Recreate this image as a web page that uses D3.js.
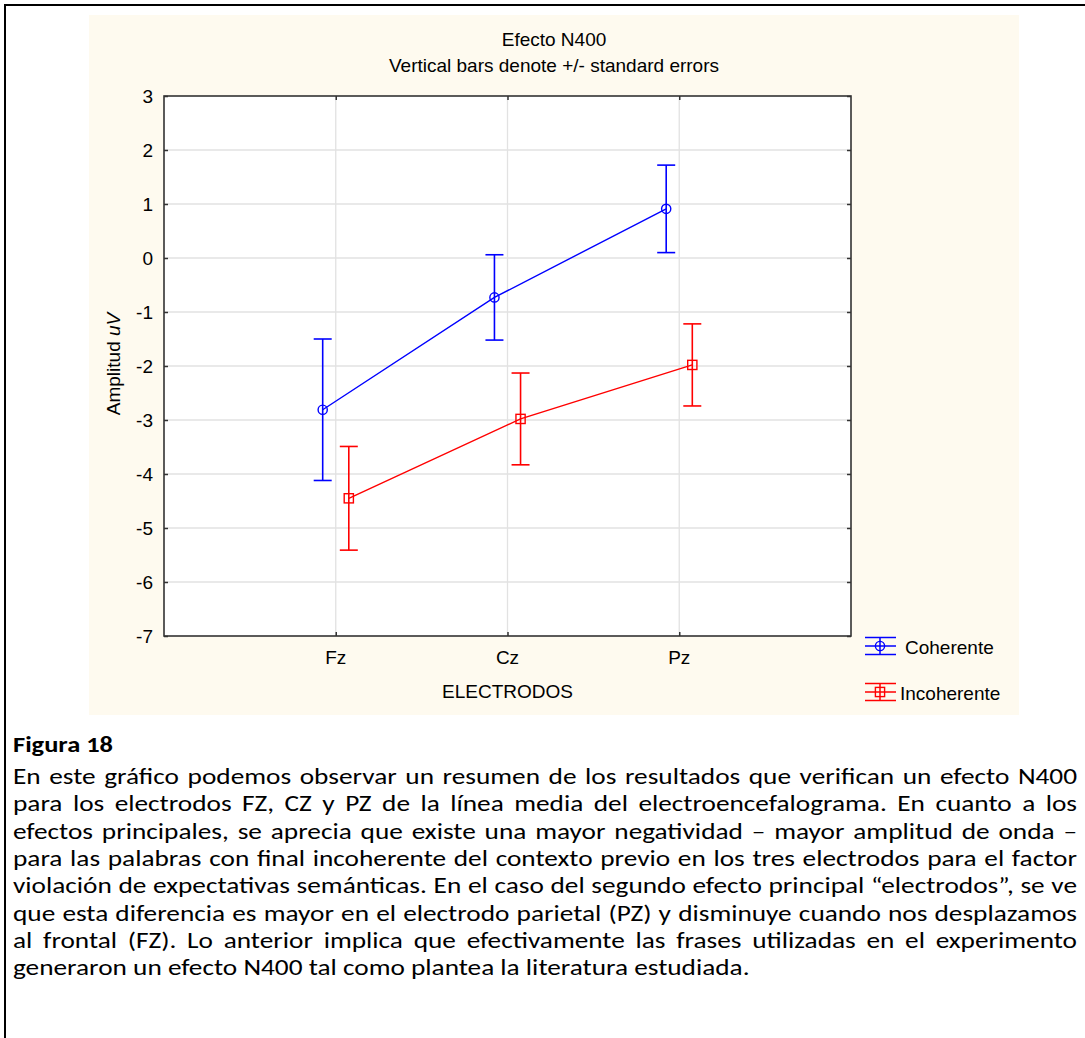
<!DOCTYPE html>
<html>
<head>
<meta charset="utf-8">
<script src="https://cdn.jsdelivr.net/npm/d3@7"></script>
<style>
  html, body { margin: 0; padding: 0; background: #fff; }
  svg { display: block; }
</style>
</head>
<body>
<svg id="chart" width="1085" height="1038"></svg>
<script>
// ---- data ----
const categories = ["Fz", "Cz", "Pz"];
const seriesNames = ["Coherente", "Incoherente"];
const coherenteMean = [-2.81, -0.73, 0.91];
const coherenteSE = [1.31, 0.79, 0.81];
const incoherenteMean = [-4.45, -2.98, -1.98];
const incoherenteSE = [0.96, 0.85, 0.76];
const yTickValues = [3, 2, 1, 0, -1, -2, -3, -4, -5, -6, -7];
const titleText = "Efecto N400";
const subtitleText = "Vertical bars denote +/- standard errors";
const xAxisLabel = "ELECTRODOS";
const yAxisLabel = "Amplitud ";
const yAxisUnit = "uV";
const captionTitle = "Figura 18";
const captionLines = [
  "En este gráfico podemos observar un resumen de los resultados que verifican un efecto N400",
  "para los electrodos FZ, CZ y PZ de la línea media del electroencefalograma. En cuanto a los",
  "efectos principales, se aprecia que existe una mayor negatividad – mayor amplitud de onda –",
  "para las palabras con final incoherente del contexto previo en los tres electrodos para el factor",
  "violación de expectativas semánticas. En el caso del segundo efecto principal “electrodos”, se ve",
  "que esta diferencia es mayor en el electrodo parietal (PZ) y disminuye cuando nos desplazamos",
  "al frontal (FZ). Lo anterior implica que efectivamente las frases utilizadas en el experimento",
  "generaron un efecto N400 tal como plantea la literatura estudiada."
];

// ---- layout ----
const svg = d3.select("#chart");
const font = "'Liberation Sans', Arial, sans-serif";
const fs = 19;
const plot = { left: 164, top: 96, right: 851, bottom: 636 };

const x = d3.scaleLinear().domain([0, categories.length + 1]).range([plot.left, plot.right]);
const y = d3.scaleLinear().domain([-7, 3]).range([plot.bottom, plot.top]);

// outer frame
svg.append("rect").attr("x", 5).attr("y", 5).attr("width", 1100).attr("height", 1100)
  .attr("fill", "#fff").attr("stroke", "#000").attr("stroke-width", 2);

// beige panel
svg.append("rect").attr("x", 89).attr("y", 15).attr("width", 930).attr("height", 700)
  .attr("fill", "#fefaef");

// plot background
svg.append("rect").attr("x", plot.left).attr("y", plot.top)
  .attr("width", plot.right - plot.left).attr("height", plot.bottom - plot.top)
  .attr("fill", "#fff");

// grid lines
const grid = svg.append("g").attr("stroke", "#e2e2e2").attr("stroke-width", 1.3);
grid.selectAll("line.h").data(yTickValues.filter(v => v > -7 && v < 3)).join("line")
  .attr("x1", plot.left).attr("x2", plot.right)
  .attr("y1", d => y(d)).attr("y2", d => y(d));
grid.selectAll("line.v").data(categories).join("line")
  .attr("x1", (d, i) => x(i + 1)).attr("x2", (d, i) => x(i + 1))
  .attr("y1", plot.top).attr("y2", plot.bottom);

// axes (inward ticks on all sides)
const axisColor = "#333";
const yAxisL = d3.axisRight(y).tickValues(yTickValues).tickSize(4).tickFormat("");
const yAxisR = d3.axisLeft(y).tickValues(yTickValues).tickSize(4).tickFormat("");
const xAxisB = d3.axisTop(x).tickValues(categories.map((d, i) => i + 1)).tickSize(4).tickFormat("");
const xAxisT = d3.axisBottom(x).tickValues(categories.map((d, i) => i + 1)).tickSize(4).tickFormat("");
[[yAxisL, `translate(${plot.left},0)`], [yAxisR, `translate(${plot.right},0)`],
 [xAxisB, `translate(0,${plot.bottom})`], [xAxisT, `translate(0,${plot.top})`]].forEach(([ax, tr]) => {
  const g = svg.append("g").attr("transform", tr).call(ax);
  g.select(".domain").remove();
  g.selectAll(".tick line").attr("stroke", axisColor).attr("stroke-width", 1.5);
});
svg.append("rect").attr("x", plot.left).attr("y", plot.top)
  .attr("width", plot.right - plot.left).attr("height", plot.bottom - plot.top)
  .attr("fill", "none").attr("stroke", axisColor).attr("stroke-width", 1.6);

// tick labels
svg.append("g").selectAll("text").data(yTickValues).join("text")
  .attr("x", 153).attr("y", d => y(d)).attr("dy", "0.36em")
  .attr("text-anchor", "end").attr("font-family", font).attr("font-size", fs).attr("fill", "#000")
  .text(d => d);
svg.append("g").selectAll("text").data(categories).join("text")
  .attr("x", (d, i) => x(i + 1)).attr("y", 664)
  .attr("text-anchor", "middle").attr("font-family", font).attr("font-size", fs).attr("fill", "#000")
  .text(d => d);

// axis titles
svg.append("text").attr("x", (plot.left + plot.right) / 2).attr("y", 698)
  .attr("text-anchor", "middle").attr("font-family", font).attr("font-size", fs).text(xAxisLabel);
const yl = svg.append("text").attr("transform", `translate(120,${(plot.top + plot.bottom) / 2 - 2}) rotate(-90)`)
  .attr("text-anchor", "middle").attr("font-family", font).attr("font-size", fs);
yl.append("tspan").text(yAxisLabel);
yl.append("tspan").attr("font-style", "italic").text(yAxisUnit);

// titles
svg.append("text").attr("x", 554).attr("y", 46).attr("text-anchor", "middle")
  .attr("font-family", font).attr("font-size", fs).text(titleText);
svg.append("text").attr("x", 554).attr("y", 72).attr("text-anchor", "middle")
  .attr("font-family", font).attr("font-size", fs).text(subtitleText);

// series
const series = [
  { name: seriesNames[0], mean: coherenteMean, se: coherenteSE, color: "#0000ff", offset: -0.076, marker: "circle" },
  { name: seriesNames[1], mean: incoherenteMean, se: incoherenteSE, color: "#ff0000", offset: 0.076, marker: "square" }
];
const line = d3.line().x(d => x(d.i + 1 + d.offset)).y(d => y(d.v));
const capW = 9;

function drawMarker(g, type, cx, cy, color) {
  if (type === "circle") {
    g.append("circle").attr("cx", cx).attr("cy", cy).attr("r", 4.6)
      .attr("fill", "none").attr("stroke", color).attr("stroke-width", 1.4);
  } else {
    g.append("rect").attr("x", cx - 4.6).attr("y", cy - 4.6).attr("width", 9.2).attr("height", 9.2)
      .attr("fill", "none").attr("stroke", color).attr("stroke-width", 1.4);
  }
}

series.forEach(s => {
  const pts = s.mean.map((v, i) => ({ i, v, se: s.se[i], offset: s.offset }));
  const g = svg.append("g");
  g.append("path").datum(pts).attr("d", line).attr("fill", "none")
    .attr("stroke", s.color).attr("stroke-width", 1.4);
  pts.forEach(p => {
    const cx = x(p.i + 1 + p.offset);
    const yt = y(p.v + p.se), yb = y(p.v - p.se);
    g.append("line").attr("x1", cx).attr("x2", cx).attr("y1", yt).attr("y2", yb)
      .attr("stroke", s.color).attr("stroke-width", 1.6);
    [yt, yb].forEach(yy => g.append("line").attr("x1", cx - capW).attr("x2", cx + capW)
      .attr("y1", yy).attr("y2", yy).attr("stroke", s.color).attr("stroke-width", 1.6));
    drawMarker(g, s.marker, cx, y(p.v), s.color);
  });
});

// legend
const legendItems = [
  { s: series[0], cy: 646, tx: 905, ty: 654 },
  { s: series[1], cy: 692, tx: 900, ty: 700 }
];
legendItems.forEach(it => {
  const g = svg.append("g");
  const cx = 880, c = it.s.color;
  [-8.5, 0, 8.5].forEach(dy => g.append("line").attr("x1", 865).attr("x2", 896)
    .attr("y1", it.cy + dy).attr("y2", it.cy + dy).attr("stroke", c).attr("stroke-width", 1.5));
  g.append("line").attr("x1", cx).attr("x2", cx).attr("y1", it.cy - 8.5).attr("y2", it.cy + 8.5)
    .attr("stroke", c).attr("stroke-width", 1.5);
  drawMarker(g, it.s.marker, cx, it.cy, c);
  g.append("text").attr("x", it.tx).attr("y", it.ty).attr("font-family", font).attr("font-size", fs)
    .text(it.s.name);
});

// caption
const capFont = "Carlito, Calibri, Lato, 'Open Sans', sans-serif";
const capLeft = 13, capRight = 1077, capFs = 22.3, lineGap = 27.3;
const capTitle = svg.append("text").attr("x", 0).attr("y", 0)
  .attr("font-family", capFont).attr("font-weight", "bold").attr("font-size", capFs).text(captionTitle);
{
  const tw = capTitle.node().getComputedTextLength();
  capTitle.attr("transform", `translate(${capLeft},752) scale(${100 / tw},1)`);
}

const capG = svg.append("g");
const lines = capG.selectAll("text").data(captionLines).join("text")
  .attr("x", 0).attr("y", 0)
  .attr("font-family", capFont).attr("font-size", capFs).attr("fill", "#000")
  .text(d => d);
// horizontal scale so the last (unjustified) line is ~737 px wide
const lastW = lines.filter((d, i) => i === captionLines.length - 1).node().getComputedTextLength();
const sx = 737 / lastW;
lines.attr("transform", (d, i) => `translate(${capLeft},${784 + i * lineGap}) scale(${sx},1)`);
// justify all other lines via word spacing
lines.each(function (d, i) {
  if (i === captionLines.length - 1) return;
  const w = this.getComputedTextLength();
  const spaces = (d.match(/ /g) || []).length;
  d3.select(this).attr("word-spacing", ((capRight - capLeft) / sx - w) / spaces);
});
</script>
</body>
</html>
